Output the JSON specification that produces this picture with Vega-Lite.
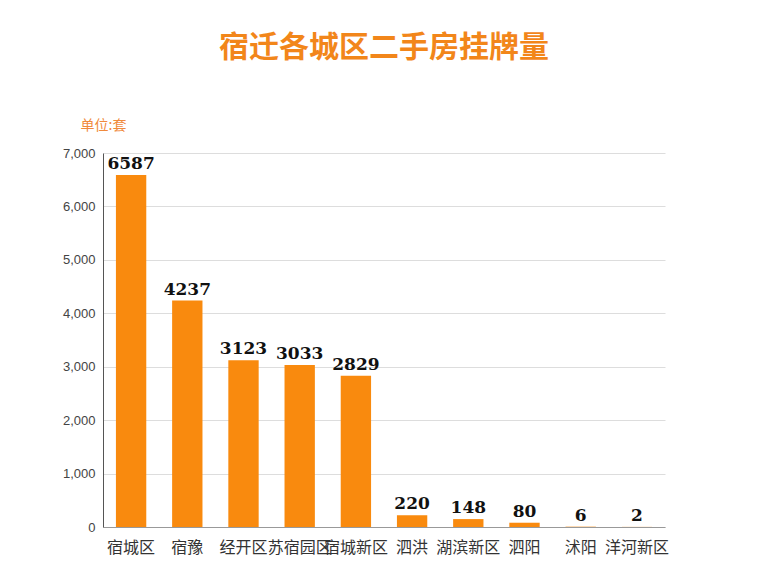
{
  "$schema": "https://vega.github.io/schema/vega-lite/v6.json",
  "width": 562,
  "height": 374,
  "autosize": "none",
  "padding": {"left": 103, "top": 153, "right": 108, "bottom": 51},
  "background": "#ffffff",
  "title": {
    "text": "宿迁各城区二手房挂牌量",
    "font": "Noto Sans CJK SC",
    "fontSize": 30,
    "fontWeight": "bold",
    "color": "#F2861A",
    "anchor": "middle",
    "offset": 31,
    "baseline": "alphabetic"
  },
  "data": {
    "values": [
      {"district": "宿城区", "count": 6587},
      {"district": "宿豫", "count": 4237},
      {"district": "经开区", "count": 3123},
      {"district": "苏宿园区", "count": 3033},
      {"district": "宿城新区", "count": 2829},
      {"district": "泗洪", "count": 220},
      {"district": "湖滨新区", "count": 148},
      {"district": "泗阳", "count": 80},
      {"district": "沭阳", "count": 6},
      {"district": "洋河新区", "count": 2}
    ]
  },
  "encoding": {
    "x": {
      "field": "district",
      "type": "nominal",
      "sort": null,
      "scale": {"paddingInner": 0.46, "paddingOuter": 0.23},
      "axis": {
        "title": null,
        "labelAngle": 0,
        "labelFont": "Noto Sans CJK SC",
        "labelFontSize": 16,
        "labelColor": "#333333",
        "labelPadding": 12,
        "ticks": false,
        "domainColor": "#999999",
        "labelOverlap": false
      }
    },
    "y": {
      "field": "count",
      "type": "quantitative",
      "scale": {"domain": [0, 7000]},
      "axis": {
        "values": [0, 1000, 2000, 3000, 4000, 5000, 6000, 7000],
        "format": ",d",
        "title": "单位:套",
        "titleFont": "Noto Sans CJK SC",
        "titleFontSize": 14,
        "titleFontWeight": "normal",
        "titleColor": "#F08A3C",
        "titleAngle": 0,
        "titleAlign": "left",
        "titleBaseline": "alphabetic",
        "titleX": -23,
        "titleY": -24,
        "labelFont": "Liberation Sans",
        "labelFontSize": 13,
        "labelColor": "#444444",
        "labelPadding": 8,
        "ticks": false,
        "domainColor": "#555555",
        "gridColor": "#dddddd"
      }
    }
  },
  "layer": [
    {"mark": {"type": "bar", "color": "#F98A0E"}},
    {
      "mark": {
        "type": "text",
        "baseline": "bottom",
        "dy": -2,
        "font": "DejaVu Serif",
        "fontWeight": "bold",
        "fontSize": 17,
        "color": "#111111"
      },
      "encoding": {"text": {"field": "count", "type": "quantitative", "format": "d"}}
    }
  ],
  "config": {"view": {"stroke": null}}
}
